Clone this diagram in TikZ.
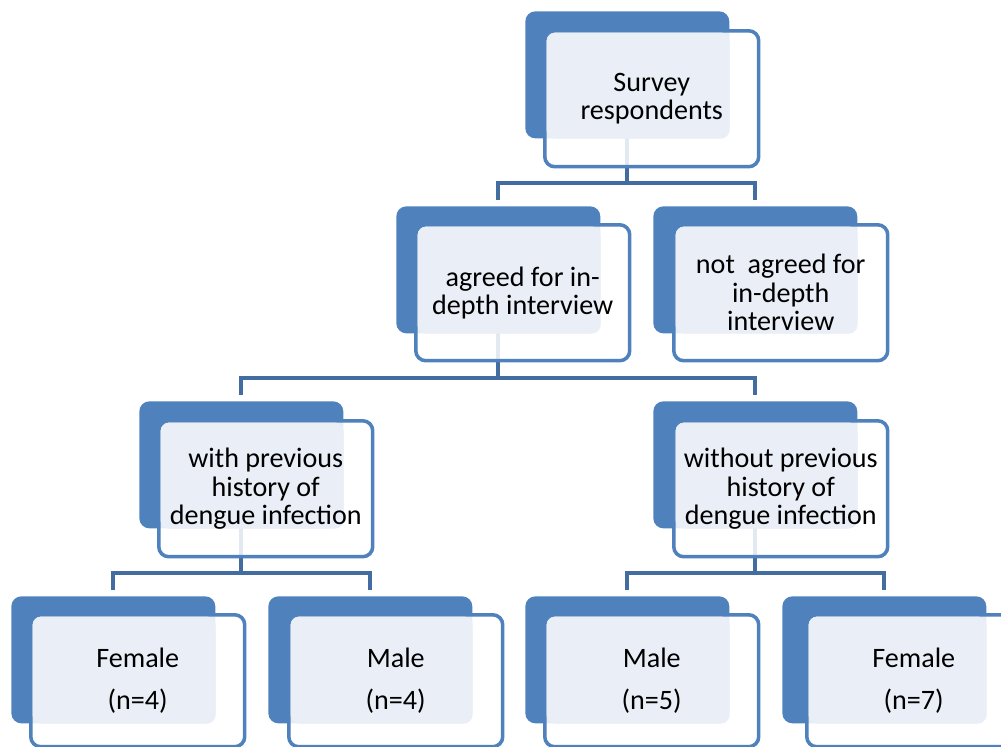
\documentclass[tikz,border=0pt]{standalone}
\usepackage{fontspec}
\setmainfont{Carlito}
\usetikzlibrary{positioning}

\pgfdeclarelayer{bg}
\pgfsetlayers{bg,main}

\definecolor{smblue}{RGB}{79,129,189}
\definecolor{smline}{RGB}{67,108,160}
\definecolor{smlight}{RGB}{234,239,247}

\tikzset{
  backbox/.style={fill=smblue, rounded corners=0.2cm, inner sep=0pt, anchor=north west,
                  minimum width=4.08cm, minimum height=2.54cm},
  frontbox/.style={draw=smblue, line width=2pt, fill=white, fill opacity=0.85,
                   rounded corners=0.2cm, inner sep=0pt, anchor=north west,
                   minimum width=4.28cm, minimum height=2.72cm},
  lightbox/.style={fill=smlight, rounded corners=0.18cm},
  boxtext/.style={font=\fontsize{16}{16.2}\selectfont, align=center, text=black},
  conn/.style={draw=smline, line width=2.3pt, shorten >=0.12cm}
}

\begin{document}
\begin{tikzpicture}[x=0.02cm, y=-0.02cm]
\useasboundingbox (0,0) rectangle (1001,747);
\clip (0,0) rectangle (1001,747);

% top box
\node[backbox] (surveyB) at (525,11) {};
\node[frontbox] (surveyF) at (543,29) {};
\fill[lightbox] ([shift={(0.07cm,-0.07cm)}]surveyF.north west) rectangle (surveyB.south east);
\node[boxtext] (surveyT) at (surveyF.center) {Survey\\respondents};

% second row
\node[backbox] (agreedB) at (396,206) {};
\node[frontbox] (agreedF) at (414,223) {};
\fill[lightbox] ([shift={(0.07cm,-0.07cm)}]agreedF.north west) rectangle (agreedB.south east);
\node[boxtext] (agreedT) at (agreedF.center) {agreed for in-\\depth interview};

\node[backbox] (notagreedB) at (653,206) {};
\node[frontbox] (notagreedF) at (672,223) {};
\fill[lightbox] ([shift={(0.07cm,-0.07cm)}]notagreedF.north west) rectangle (notagreedB.south east);
\node[boxtext] (notagreedT) at (notagreedF.center) {not\ \ agreed for\\in-depth\\interview};

% third row
\node[backbox] (withB) at (139,401) {};
\node[frontbox] (withF) at (157,419) {};
\fill[lightbox] ([shift={(0.07cm,-0.07cm)}]withF.north west) rectangle (withB.south east);
\node[boxtext] (withT) at (withF.center) {with previous\\history of\\dengue infection};

\node[backbox] (withoutB) at (653,401) {};
\node[frontbox] (withoutF) at (672,419) {};
\fill[lightbox] ([shift={(0.07cm,-0.07cm)}]withoutF.north west) rectangle (withoutB.south east);
\node[boxtext] (withoutT) at (withoutF.center) {without previous\\history of\\dengue infection};

% bottom row
\node[backbox] (femaleAB) at (11,596) {};
\node[frontbox, minimum height=2.64cm] (femaleAF) at (29,613) {};
\fill[lightbox] ([shift={(0.07cm,-0.07cm)}]femaleAF.north west) rectangle (femaleAB.south east);
\node[boxtext] (femaleAT) at (femaleAF.center) {Female\\[0.28cm](n=4)};

\node[backbox] (maleAB) at (268,596) {};
\node[frontbox, minimum height=2.64cm] (maleAF) at (287,613) {};
\fill[lightbox] ([shift={(0.07cm,-0.07cm)}]maleAF.north west) rectangle (maleAB.south east);
\node[boxtext] (maleAT) at (maleAF.center) {Male\\[0.28cm](n=4)};

\node[backbox] (maleBB) at (525,596) {};
\node[frontbox, minimum height=2.64cm] (maleBF) at (543,613) {};
\fill[lightbox] ([shift={(0.07cm,-0.07cm)}]maleBF.north west) rectangle (maleBB.south east);
\node[boxtext] (maleBT) at (maleBF.center) {Male\\[0.28cm](n=5)};

\node[backbox] (femaleBB) at (782,596) {};
\node[frontbox, minimum height=2.64cm] (femaleBF) at (805,613) {};
\fill[lightbox] ([shift={(0.07cm,-0.07cm)}]femaleBF.north west) rectangle (femaleBB.south east);
\node[boxtext] (femaleBT) at (femaleBF.center) {Female\\[0.28cm](n=7)};

% connectors, behind the boxes
\coordinate (j1) at (0,183);
\coordinate (j2) at (0,378);
\coordinate (j3) at (0,573);
\begin{pgfonlayer}{bg}
\draw[conn] (surveyB.center) -- (surveyB.center |- j1) -| (agreedB.north);
\draw[conn] (surveyB.center) -- (surveyB.center |- j1) -| (notagreedB.north);
\draw[conn] (agreedB.center) -- (agreedB.center |- j2) -| (withB.north);
\draw[conn] (agreedB.center) -- (agreedB.center |- j2) -| (withoutB.north);
\draw[conn] (withB.center) -- (withB.center |- j3) -| (femaleAB.north);
\draw[conn] (withB.center) -- (withB.center |- j3) -| (maleAB.north);
\draw[conn] (withoutB.center) -- (withoutB.center |- j3) -| (maleBB.north);
\draw[conn] (withoutB.center) -- (withoutB.center |- j3) -| (femaleBB.north);
\end{pgfonlayer}
\end{tikzpicture}
\end{document}
